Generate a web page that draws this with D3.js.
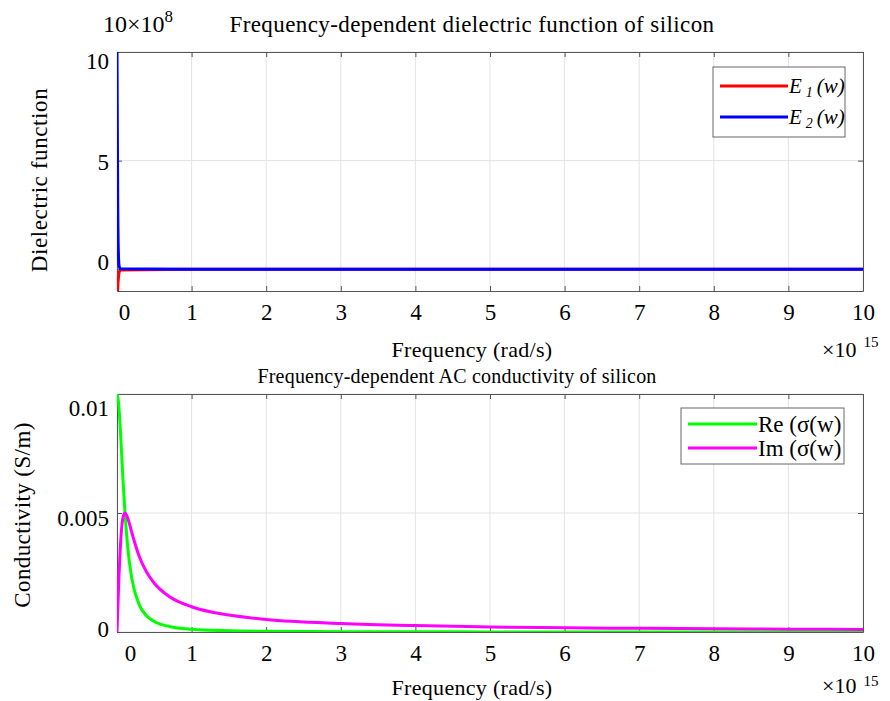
<!DOCTYPE html>
<html><head><meta charset="utf-8">
<script src="https://cdn.jsdelivr.net/npm/d3@7"></script>
<style>
body{margin:0;background:#fff;}
text{font-family:"Liberation Serif","Times New Roman",serif;fill:#000;}
</style></head>
<body><svg id="c" width="890" height="701"></svg>
<script>
// ---------- data (frequency in units of 1e15 rad/s) ----------
const xTicks = [0,1,2,3,4,5,6,7,8,9,10];
const xTickLabels = ["0","1","2","3","4","5","6","7","8","9","10"];

// dielectric function (units of 1e8)
const epsFreq = [0, 0.005, 0.01, 0.02, 0.03, 0.05, 1, 2, 4, 6, 8, 10];
const eps1 = [-3.0, -1.6, -0.9, -0.35, -0.12, -0.03, 0, 0, 0, 0, 0, 0];
const eps2 = [10.2, 6.5, 3.0, 0.6, 0.12, 0.02, 0, 0, 0, 0, 0, 0];
const epsYTicks = [0, 5, 10];
const epsYTickLabels = ["0", "5", "10"];

// AC conductivity (S/m)
const sigFreq = [0, 0.02, 0.05, 0.08, 0.107, 0.15, 0.2, 0.3, 0.4, 0.5, 0.7, 1, 1.5, 2, 3, 4, 5, 6, 7, 8, 9, 10];
const sigRe = [0.0100, 0.00966, 0.00821, 0.00641, 0.00500, 0.00337, 0.00223, 0.00113, 0.00067, 0.00044, 0.00023, 0.000113, 0.000051, 0.000029, 0.000013, 0.000007, 0.000005, 0.000003, 0.000002, 0.000002, 0.000001, 0.000001];
const sigIm = [0, 0.00181, 0.00384, 0.00480, 0.00500, 0.00473, 0.00416, 0.00316, 0.00250, 0.00205, 0.00149, 0.00106, 0.00071, 0.00053, 0.00036, 0.00027, 0.000214, 0.000178, 0.000153, 0.000134, 0.000119, 0.000107];
const sigYTicks = [0, 0.005, 0.01];
const sigYTickLabels = ["0", "0.005", "0.01"];

// ---------- drawing ----------
const svg = d3.select("#c");
const FS = 23;
const L = 117, R = 863;

function panel(cfg){
  const x = d3.scaleLinear().domain([0,10]).range([L,R]);
  const y = d3.scaleLinear().domain(cfg.yDomain).range([cfg.bottom, cfg.top]);
  const g = svg.append("g");
  const id = "clip"+cfg.name;
  svg.append("clipPath").attr("id",id).append("rect")
    .attr("x",L).attr("y",cfg.top).attr("width",R-L).attr("height",cfg.bottom-cfg.top);
  // grid
  g.append("g").selectAll("line").data(xTicks).join("line")
    .attr("x1",d=>x(d)).attr("x2",d=>x(d)).attr("y1",cfg.top).attr("y2",cfg.bottom)
    .attr("stroke","#e3e3e3").attr("stroke-width",1);
  g.append("g").selectAll("line").data(cfg.yTicks).join("line")
    .attr("x1",L).attr("x2",R).attr("y1",d=>y(d)).attr("y2",d=>y(d))
    .attr("stroke","#e3e3e3").attr("stroke-width",1);
  // axes with inward ticks
  const ax = (gen, tr) => g.append("g").attr("transform",tr).call(gen)
      .attr("font-size",FS).attr("font-family","Liberation Serif")
      .call(s=>s.select(".domain").attr("stroke","#555"))
      .call(s=>s.selectAll(".tick line").attr("stroke","#555"))
      .call(s=>s.selectAll("text").attr("font-size",FS).attr("fill","#000"));
  ax(d3.axisBottom(x).tickValues(xTicks).tickFormat((d,i)=>xTickLabels[i]).tickSizeInner(-5).tickSizeOuter(0).tickPadding(cfg.xPad), `translate(0,${cfg.bottom})`)
    .selectAll("text").attr("dx",(d,i)=>i===0?cfg.zeroDx:0);
  ax(d3.axisTop(x).tickValues(xTicks).tickFormat("").tickSizeInner(-5).tickSizeOuter(0), `translate(0,${cfg.top})`);
  ax(d3.axisLeft(y).tickValues(cfg.yTicks).tickFormat((d,i)=>cfg.yLabels[i]).tickSizeInner(-5).tickSizeOuter(0).tickPadding(8), `translate(${L},0)`)
    .selectAll("text").attr("dy",(d,i)=>cfg.yDy[i]);
  ax(d3.axisRight(y).tickValues(cfg.yTicks).tickFormat("").tickSizeInner(-5).tickSizeOuter(0), `translate(${R},0)`);
  // series
  const cg = g.append("g").attr("clip-path",`url(#${id})`);
  cfg.series.forEach(s=>{
    const line = d3.line().x((d,i)=>x(cfg.freq[i])).y(d=>y(d)).curve(d3.curveMonotoneX);
    cg.append("path").datum(s.values).attr("d",line).attr("fill","none")
      .attr("stroke",s.color).attr("stroke-width",3);
  });
  // texts
  svg.append("text").attr("x",cfg.titleX).attr("y",cfg.titleY).attr("text-anchor","middle")
    .attr("font-size",cfg.titleFS).attr("letter-spacing",cfg.titleLS).text(cfg.title);
  svg.append("text").attr("x",472).attr("y",cfg.xlabY).attr("text-anchor","middle")
    .attr("font-size",22).attr("letter-spacing",0.3).text("Frequency  (rad/s)");
  const ex = svg.append("text").attr("x",822).attr("y",cfg.expY).attr("font-size",22);
  ex.append("tspan").text("×10");
  ex.append("tspan").attr("dx",7).attr("dy",-cfg.supUp).attr("font-size",15).text("15");
  svg.append("text").attr("transform",`translate(${cfg.ylabX},${cfg.ylabYc}) rotate(-90)`)
    .attr("text-anchor","middle").attr("font-size",FS).attr("letter-spacing",cfg.ylabLS).text(cfg.ylab);
  // legend
  const lg = svg.append("g");
  lg.append("rect").attr("x",cfg.leg.x).attr("y",cfg.leg.y).attr("width",cfg.leg.w).attr("height",cfg.leg.h)
    .attr("fill","#fff").attr("stroke","#666").attr("stroke-width",1);
  cfg.series.forEach((s,i)=>{
    const yy = cfg.leg.y + cfg.leg.r0 + i*cfg.leg.dr;
    lg.append("line").attr("x1",cfg.leg.x+7).attr("x2",cfg.leg.x+7+cfg.leg.len).attr("y1",yy).attr("y2",yy)
      .attr("stroke",s.color).attr("stroke-width",3);
    const t = lg.append("text").attr("x",cfg.leg.x+8+cfg.leg.len).attr("y",yy+cfg.leg.ty).attr("font-size",cfg.leg.fs);
    s.label(t);
  });
  return {x,y};
}

function eLabel(n){
  return t=>{
    t.attr("font-style","italic");
    t.append("tspan").text("E");
    t.append("tspan").attr("dx",4).attr("dy",4).attr("font-size",14).text(n);
    t.append("tspan").attr("dx",4).attr("dy",-4).text("(w)");
  };
}

panel({
  name:"eps", top:52, bottom:291, yDomain:[-1,10], yTicks:epsYTicks, yLabels:epsYTickLabels,
  yDy:["0.0em","0.4em","0.7em"], zeroDx:7, xPad:13,
  freq:epsFreq,
  series:[
    {values:eps1,color:"#ff0000",label:eLabel("1")},
    {values:eps2,color:"#0000ff",label:eLabel("2")}
  ],
  title:"Frequency-dependent dielectric function of silicon", titleX:472, titleY:32, titleFS:23, titleLS:0.4,
  xlabY:357, expY:357, supUp:10, ylabX:47, ylabYc:180, ylab:"Dielectric  function", ylabLS:0.6,
  leg:{x:713,y:67,w:132,h:70,r0:19,dr:31,len:68,fs:21,ty:7}
});

panel({
  name:"sig", top:394, bottom:632, yDomain:[0,0.01], yTicks:sigYTicks, yLabels:sigYTickLabels,
  yDy:["0.2em","0.55em","0.95em"], zeroDx:13, xPad:13,
  freq:sigFreq,
  series:[
    {values:sigRe,color:"#00ff00",label:t=>t.text("Re (σ(w)")},
    {values:sigIm,color:"#ff00ff",label:t=>t.text("Im (σ(w)")}
  ],
  title:"Frequency-dependent AC conductivity of silicon", titleX:457, titleY:383, titleFS:20, titleLS:0.2,
  xlabY:695, expY:693, supUp:7, ylabX:30, ylabYc:515, ylab:"Conductivity (S/m)", ylabLS:0.4,
  leg:{x:681,y:408,w:163,h:56,r0:16,dr:24,len:69,fs:23,ty:8}
});

// exponent label of the upper y axis
const ey = svg.append("text").attr("x",103).attr("y",32).attr("font-size",24);
ey.append("tspan").text("10×10");
ey.append("tspan").attr("dy",-10).attr("font-size",17).text("8");
</script></body></html>
